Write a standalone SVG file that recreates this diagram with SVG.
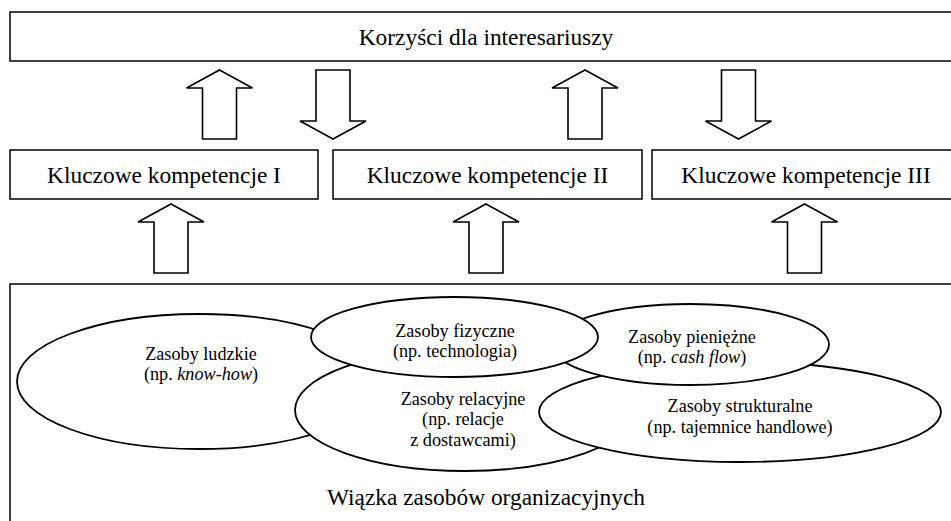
<svg xmlns="http://www.w3.org/2000/svg" xmlns:xlink="http://www.w3.org/1999/xlink" width="951" height="521" viewBox="0 0 951 521">
<style>
  .box { fill: #ffffff; stroke: #000000; stroke-width: 1.5; }
  .ell { fill: #ffffff; stroke: #000000; stroke-width: 1.8; }
  .arrow { fill: #ffffff; stroke: #000000; stroke-width: 1.6; stroke-linejoin: miter; }
  text { font-family: 'Liberation Serif', 'Times New Roman', Times, 'DejaVu Serif', serif; fill: #000000; text-anchor: middle; }
  .big { font-size: 23.4px; }
  .small { font-size: 18.2px; }
  .it { font-style: italic; }
</style>
<defs>
  <path id="upArrow" d="M0,0 L33,18 L17,18 L17,69 L-17,69 L-17,18 L-33,18 Z"/>
</defs>
<rect width="951" height="521" fill="#ffffff"/>

<g id="korzysci">
  <rect class="box" x="10" y="12" width="952" height="49"/>
  <text class="big" x="486" y="45" font-family="Liberation Serif, serif">Korzyści dla interesariuszy</text>
</g>

<g id="kompetencje1">
  <rect class="box" x="10" y="150" width="308" height="49"/>
  <text class="big" x="164" y="183" font-family="Liberation Serif, serif">Kluczowe kompetencje I</text>
</g>
<g id="kompetencje2">
  <rect class="box" x="333" y="150" width="309" height="49"/>
  <text class="big" x="487.5" y="183" font-family="Liberation Serif, serif">Kluczowe kompetencje II</text>
</g>
<g id="kompetencje3">
  <rect class="box" x="652" y="150" width="310" height="49"/>
  <text class="big" x="806" y="183" font-family="Liberation Serif, serif">Kluczowe kompetencje III</text>
</g>

<g id="wiazka">
  <rect class="box" x="10" y="284" width="952" height="260"/>
  <text class="big" x="486" y="505" font-family="Liberation Serif, serif">Wiązka zasobów organizacyjnych</text>
</g>

<g id="ludzkie">
  <ellipse class="ell" cx="199" cy="381.5" rx="182" ry="67.5"/>
  <text class="small" x="201" y="360" font-family="Liberation Serif, serif">Zasoby ludzkie</text>
  <text class="small" x="201" y="380" font-family="Liberation Serif, serif">(np. <tspan class="it">know-how</tspan>)</text>
</g>

<g id="relacyjne">
  <ellipse class="ell" cx="465" cy="410" rx="170" ry="61"/>
  <text class="small" x="463" y="405" font-family="Liberation Serif, serif">Zasoby relacyjne</text>
  <text class="small" x="463" y="425" font-family="Liberation Serif, serif">(np. relacje</text>
  <text class="small" x="463" y="446" font-family="Liberation Serif, serif">z dostawcami)</text>
</g>

<g id="strukturalne">
  <ellipse class="ell" cx="740" cy="412" rx="201" ry="50"/>
  <text class="small" x="740" y="412" font-family="Liberation Serif, serif">Zasoby strukturalne</text>
  <text class="small" x="740" y="433" font-family="Liberation Serif, serif">(np. tajemnice handlowe)</text>
</g>

<g id="pieniezne">
  <ellipse class="ell" cx="690" cy="344.5" rx="139" ry="40.5"/>
  <text class="small" x="692" y="343" font-family="Liberation Serif, serif">Zasoby pieniężne</text>
  <text class="small" x="692" y="363" font-family="Liberation Serif, serif">(np. <tspan class="it">cash flow</tspan>)</text>
</g>

<g id="fizyczne">
  <ellipse class="ell" cx="454.5" cy="337" rx="143.5" ry="40"/>
  <text class="small" x="455" y="337" font-family="Liberation Serif, serif">Zasoby fizyczne</text>
  <text class="small" x="455" y="357" font-family="Liberation Serif, serif">(np. technologia)</text>
</g>

<g id="connectors">
  <use xlink:href="#upArrow" class="arrow" transform="translate(219.5,70)"/>
  <use xlink:href="#upArrow" class="arrow" transform="translate(333,139) rotate(180)"/>
  <use xlink:href="#upArrow" class="arrow" transform="translate(585,70)"/>
  <use xlink:href="#upArrow" class="arrow" transform="translate(738.5,139) rotate(180)"/>
  <use xlink:href="#upArrow" class="arrow" transform="translate(171,204)"/>
  <use xlink:href="#upArrow" class="arrow" transform="translate(486,204)"/>
  <use xlink:href="#upArrow" class="arrow" transform="translate(804.5,204)"/>
</g>
</svg>
